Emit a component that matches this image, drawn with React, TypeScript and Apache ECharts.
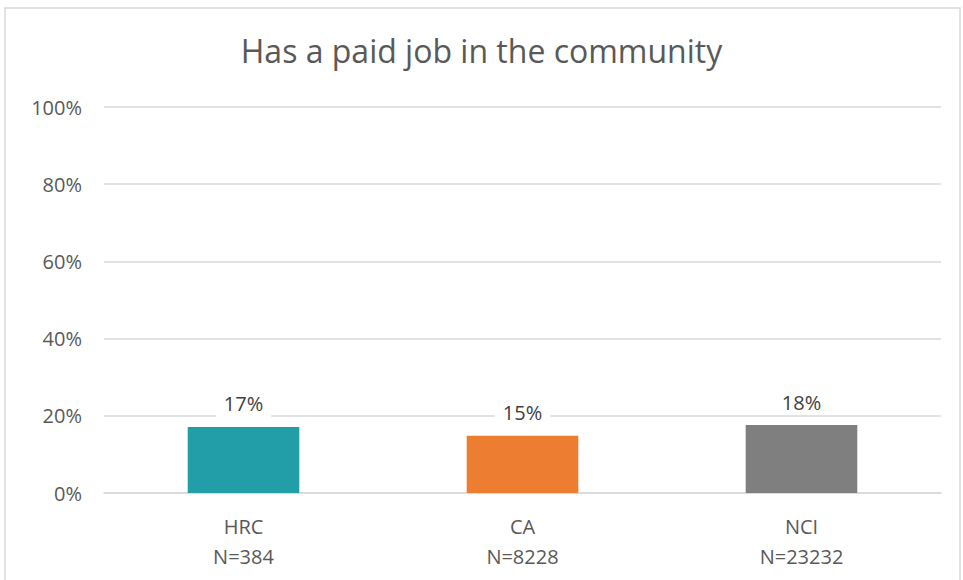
import React, { useEffect, useRef } from "react";
import * as echarts from "echarts";

const categories = ["HRC\nN=384", "CA\nN=8228", "NCI\nN=23232"];
const values = [17.1, 14.8, 17.6];
const colors = ["#219EA7", "#ED7D31", "#7F7F7F"];
const title = "Has a paid job in the community";

const FONT = "'Open Sans', 'Noto Sans', sans-serif";

export default function App() {
  const ref = useRef<HTMLDivElement>(null);
  useEffect(() => {
    if (!ref.current) return;
    const chart = echarts.init(ref.current, null, { renderer: "svg" });
    chart.setOption({
      animation: false,
      backgroundColor: "#ffffff",
      title: {
        text: title,
        left: "center",
        top: 29,
        textStyle: { fontFamily: FONT, fontSize: 32, fontWeight: "normal", color: "#595959" },
      },
      graphic: [
        {
          type: "rect",
          shape: { x: 5, y: 8, width: 955, height: 580 },
          style: { fill: "none", stroke: "#D9D9D9", lineWidth: 1.5 },
          silent: true,
        },
      ],
      grid: { left: 104, right: 22, top: 107, bottom: 87 },
      xAxis: {
        type: "category",
        data: categories,
        axisLine: { lineStyle: { color: "#D9D9D9", width: 1.5 } },
        axisTick: { show: false },
        axisLabel: {
          fontFamily: FONT,
          fontSize: 20,
          color: "#595959",
          lineHeight: 30,
          margin: 18,
        },
      },
      yAxis: {
        type: "value",
        min: 0,
        max: 100,
        interval: 20,
        axisLine: { show: false },
        axisTick: { show: false },
        splitLine: { lineStyle: { color: "#D9D9D9", width: 1.5 } },
        axisLabel: {
          fontFamily: FONT,
          fontSize: 20,
          color: "#595959",
          margin: 22,
          formatter: (v: number) => `${v}%`,
        },
      },
      series: [
        {
          type: "bar",
          barWidth: "40%",
          data: values.map((v, i) => ({ value: v, itemStyle: { color: colors[i] } })),
          label: {
            show: true,
            position: "top",
            distance: 10,
            fontFamily: FONT,
            fontSize: 20,
            color: "#404040",
            backgroundColor: "#ffffff",
            padding: [3, 8, 3, 8],
            formatter: (p: any) => `${Math.round(p.value)}%`,
          },
        },
      ],
    });
    return () => chart.dispose();
  }, []);
  return (
    <div
      ref={ref}
      style={{ position: "fixed", left: 0, top: 0, width: 963, height: 580 }}
    />
  );
}
